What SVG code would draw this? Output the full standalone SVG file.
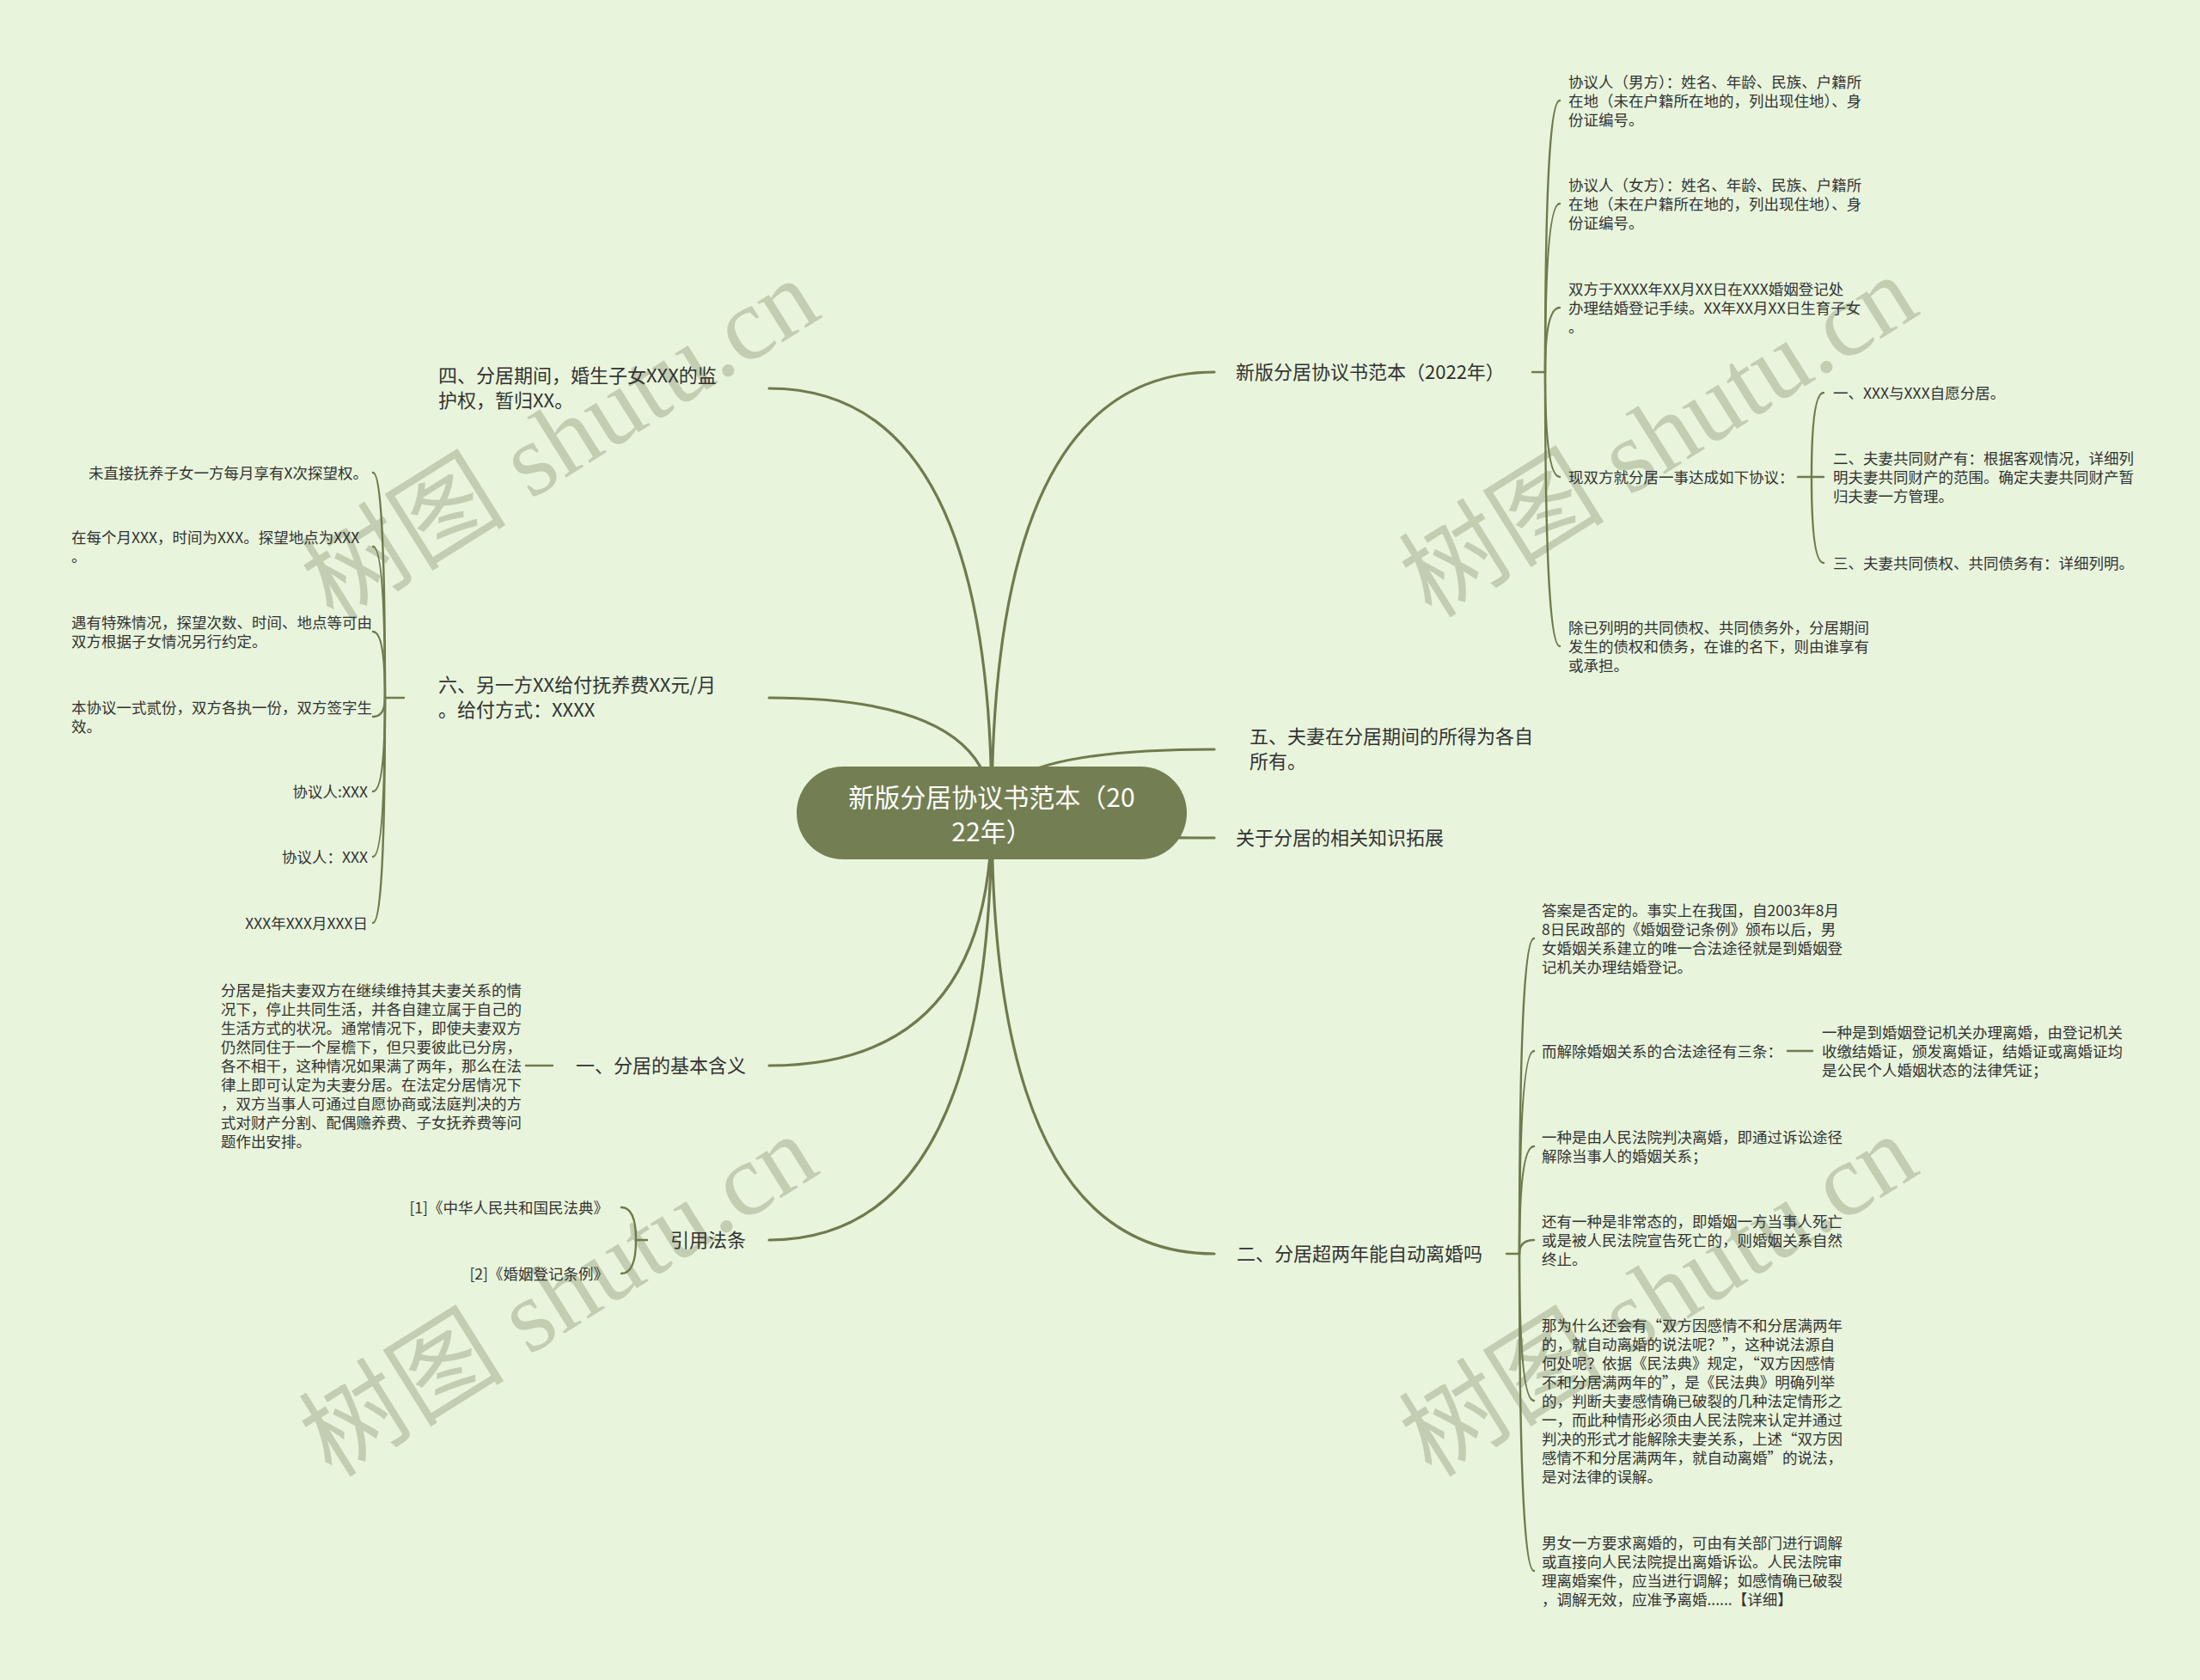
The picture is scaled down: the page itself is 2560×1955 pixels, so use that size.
<svg xmlns="http://www.w3.org/2000/svg" width="2560" height="1955" viewBox="0 0 2560 1955">
<defs>
<style>
.bg{fill:#e8f5dc}
.wm{font-family:"Liberation Serif","Noto Sans CJK SC",serif;font-size:120px;fill:#c2cdb2}
.c1{fill:none;stroke:#6f7b4e;stroke-width:3.2;stroke-linecap:round}
.c2{fill:none;stroke:#6f7b4e;stroke-width:2.4;stroke-linecap:round}
.t{font-family:"Noto Sans CJK SC","Noto Sans",sans-serif;fill:#333333}
.f17{font-size:17.5px}
.f22{font-size:22px}
.root{fill:#737f52}
.rt{font-family:"Noto Sans CJK SC","Noto Sans",sans-serif;font-size:30px;fill:#ffffff}
</style>
</defs>
<rect class="bg" x="0" y="0" width="2560" height="1955"/>

<g id="watermark">
<text class="wm" transform="translate(652,512) rotate(-32)" text-anchor="middle" dominant-baseline="central">树图 shutu.cn</text>
<text class="wm" transform="translate(1930,508) rotate(-32)" text-anchor="middle" dominant-baseline="central">树图 shutu.cn</text>
<text class="wm" transform="translate(650,1508) rotate(-32)" text-anchor="middle" dominant-baseline="central">树图 shutu.cn</text>
<text class="wm" transform="translate(1930,1508) rotate(-32)" text-anchor="middle" dominant-baseline="central">树图 shutu.cn</text>
</g>

<g id="connectors">
<path class="c1" d="M1154 946 Q1154 433 1413 433"/>
<path class="c1" d="M1154 946 Q1154 872 1413 872"/>
<path class="c1" d="M1154 946 Q1154 975 1413 975"/>
<path class="c1" d="M1154 946 Q1154 1459 1413 1459"/>
<path class="c1" d="M1154 946 Q1154 452 895 452"/>
<path class="c1" d="M1154 946 Q1154 812 895 812"/>
<path class="c1" d="M1154 946 Q1154 1240 895 1240"/>
<path class="c1" d="M1154 946 Q1154 1443 895 1443"/>
<path class="c2" d="M1783 433 L1798 433"/>
<path class="c2" d="M1798 433 Q1798 117 1815 117"/>
<path class="c2" d="M1798 433 Q1798 237 1815 237"/>
<path class="c2" d="M1798 433 Q1798 358 1815 358"/>
<path class="c2" d="M1798 433 Q1798 555 1815 555"/>
<path class="c2" d="M1798 433 Q1798 752 1815 752"/>
<path class="c2" d="M2092 555 L2122 555"/>
<path class="c2" d="M2108 555 Q2108 457 2122 457"/>
<path class="c2" d="M2108 555 Q2108 655 2122 655"/>
<path class="c2" d="M1753 1459 L1768 1459"/>
<path class="c2" d="M1768 1459 Q1768 1092 1785 1092"/>
<path class="c2" d="M1768 1459 Q1768 1223 1785 1223"/>
<path class="c2" d="M1768 1459 Q1768 1334 1785 1334"/>
<path class="c2" d="M1768 1459 Q1768 1443 1785 1443"/>
<path class="c2" d="M1768 1459 Q1768 1630 1785 1630"/>
<path class="c2" d="M1768 1459 Q1768 1828 1785 1828"/>
<path class="c2" d="M2080 1223 L2109 1223"/>
<path class="c2" d="M470 812 L448 812"/>
<path class="c2" d="M448 812 Q448 550 434 550"/>
<path class="c2" d="M448 812 Q448 636 434 636"/>
<path class="c2" d="M448 812 Q448 735 434 735"/>
<path class="c2" d="M448 812 Q448 834 434 834"/>
<path class="c2" d="M448 812 Q448 921 434 921"/>
<path class="c2" d="M448 812 Q448 997 434 997"/>
<path class="c2" d="M448 812 Q448 1074 434 1074"/>
<path class="c2" d="M643 1240 L612 1240"/>
<path class="c2" d="M753 1443 L740 1443"/>
<path class="c2" d="M740 1443 Q740 1405 723 1405"/>
<path class="c2" d="M740 1443 Q740 1482 723 1482"/>
</g>

<g id="root">
<rect class="root" x="927" y="892" width="454" height="108" rx="54" ry="54"/>
<text class="rt" text-anchor="middle"><tspan x="1154" y="939">新版分居协议书范本（20</tspan><tspan x="1154" y="979">22年）</tspan></text>
</g>

<g id="r1"><text class="t f22" x="1438" y="441">新版分居协议书范本（2022年）</text></g>
<g id="r1c1"><text class="t f17"><tspan x="1825" y="101.5">协议人（男方）：姓名、年龄、民族、户籍所</tspan><tspan x="1825" y="123.5">在地（未在户籍所在地的，列出现住地）、身</tspan><tspan x="1825" y="145.5">份证编号。</tspan></text></g>
<g id="r1c2"><text class="t f17"><tspan x="1825" y="221.5">协议人（女方）：姓名、年龄、民族、户籍所</tspan><tspan x="1825" y="243.5">在地（未在户籍所在地的，列出现住地）、身</tspan><tspan x="1825" y="265.5">份证编号。</tspan></text></g>
<g id="r1c3"><text class="t f17"><tspan x="1825" y="342.5">双方于XXXX年XX月XX日在XXX婚姻登记处</tspan><tspan x="1825" y="364.5">办理结婚登记手续。XX年XX月XX日生育子女</tspan><tspan x="1825" y="386.5">。</tspan></text></g>
<g id="r1c4"><text class="t f17" x="1825" y="561.5">现双方就分居一事达成如下协议：</text></g>
<g id="r1c4a"><text class="t f17" x="2133" y="463.5">一、XXX与XXX自愿分居。</text></g>
<g id="r1c4b"><text class="t f17"><tspan x="2133" y="539.5">二、夫妻共同财产有：根据客观情况，详细列</tspan><tspan x="2133" y="561.5">明夫妻共同财产的范围。确定夫妻共同财产暂</tspan><tspan x="2133" y="583.5">归夫妻一方管理。</tspan></text></g>
<g id="r1c4c"><text class="t f17" x="2133" y="661.5">三、夫妻共同债权、共同债务有：详细列明。</text></g>
<g id="r1c5"><text class="t f17"><tspan x="1825" y="736.5">除已列明的共同债权、共同债务外，分居期间</tspan><tspan x="1825" y="758.5">发生的债权和债务，在谁的名下，则由谁享有</tspan><tspan x="1825" y="780.5">或承担。</tspan></text></g>

<g id="r2"><text class="t f22"><tspan x="1454" y="865">五、夫妻在分居期间的所得为各自</tspan><tspan x="1454" y="894">所有。</tspan></text></g>
<g id="r3"><text class="t f22" x="1438" y="983">关于分居的相关知识拓展</text></g>

<g id="r4"><text class="t f22" x="1439" y="1467">二、分居超两年能自动离婚吗</text></g>
<g id="r4c1"><text class="t f17"><tspan x="1794" y="1065.5">答案是否定的。事实上在我国，自2003年8月</tspan><tspan x="1794" y="1087.5">8日民政部的《婚姻登记条例》颁布以后，男</tspan><tspan x="1794" y="1109.5">女婚姻关系建立的唯一合法途径就是到婚姻登</tspan><tspan x="1794" y="1131.5">记机关办理结婚登记。</tspan></text></g>
<g id="r4c2"><text class="t f17" x="1794" y="1229.5">而解除婚姻关系的合法途径有三条：</text></g>
<g id="r4c2a"><text class="t f17"><tspan x="2120" y="1207.5">一种是到婚姻登记机关办理离婚，由登记机关</tspan><tspan x="2120" y="1229.5">收缴结婚证，颁发离婚证，结婚证或离婚证均</tspan><tspan x="2120" y="1251.5">是公民个人婚姻状态的法律凭证；</tspan></text></g>
<g id="r4c3"><text class="t f17"><tspan x="1794" y="1329.5">一种是由人民法院判决离婚，即通过诉讼途径</tspan><tspan x="1794" y="1351.5">解除当事人的婚姻关系；</tspan></text></g>
<g id="r4c4"><text class="t f17"><tspan x="1794" y="1427.5">还有一种是非常态的，即婚姻一方当事人死亡</tspan><tspan x="1794" y="1449.5">或是被人民法院宣告死亡的，则婚姻关系自然</tspan><tspan x="1794" y="1471.5">终止。</tspan></text></g>
<g id="r4c5"><text class="t f17"><tspan x="1794" y="1548.5">那为什么还会有“双方因感情不和分居满两年</tspan><tspan x="1794" y="1570.5">的，就自动离婚的说法呢？”，这种说法源自</tspan><tspan x="1794" y="1592.5">何处呢？依据《民法典》规定，“双方因感情</tspan><tspan x="1794" y="1614.5">不和分居满两年的”，是《民法典》明确列举</tspan><tspan x="1794" y="1636.5">的，判断夫妻感情确已破裂的几种法定情形之</tspan><tspan x="1794" y="1658.5">一，而此种情形必须由人民法院来认定并通过</tspan><tspan x="1794" y="1680.5">判决的形式才能解除夫妻关系，上述“双方因</tspan><tspan x="1794" y="1702.5">感情不和分居满两年，就自动离婚”的说法，</tspan><tspan x="1794" y="1724.5">是对法律的误解。</tspan></text></g>
<g id="r4c6"><text class="t f17"><tspan x="1794" y="1801.5">男女一方要求离婚的，可由有关部门进行调解</tspan><tspan x="1794" y="1823.5">或直接向人民法院提出离婚诉讼。人民法院审</tspan><tspan x="1794" y="1845.5">理离婚案件，应当进行调解；如感情确已破裂</tspan><tspan x="1794" y="1867.5">，调解无效，应准予离婚......【详细】</tspan></text></g>

<g id="l1"><text class="t f22"><tspan x="510" y="445">四、分居期间，婚生子女XXX的监</tspan><tspan x="510" y="474">护权，暂归XX。</tspan></text></g>
<g id="l2"><text class="t f22"><tspan x="510" y="805">六、另一方XX给付抚养费XX元/月</tspan><tspan x="510" y="834">。给付方式：XXXX</tspan></text></g>
<g id="l2c1"><text class="t f17" x="428" y="556.5" text-anchor="end">未直接抚养子女一方每月享有X次探望权。</text></g>
<g id="l2c2"><text class="t f17"><tspan x="83" y="631.5">在每个月XXX，时间为XXX。探望地点为XXX</tspan><tspan x="83" y="653.5">。</tspan></text></g>
<g id="l2c3"><text class="t f17"><tspan x="83" y="730.5">遇有特殊情况，探望次数、时间、地点等可由</tspan><tspan x="83" y="752.5">双方根据子女情况另行约定。</tspan></text></g>
<g id="l2c4"><text class="t f17"><tspan x="83" y="829.5">本协议一式贰份，双方各执一份，双方签字生</tspan><tspan x="83" y="851.5">效。</tspan></text></g>
<g id="l2c5"><text class="t f17" x="428" y="927.5" text-anchor="end">协议人:XXX</text></g>
<g id="l2c6"><text class="t f17" x="428" y="1003.5" text-anchor="end">协议人：XXX</text></g>
<g id="l2c7"><text class="t f17" x="428" y="1080.5" text-anchor="end">XXX年XXX月XXX日</text></g>

<g id="l3"><text class="t f22" x="670" y="1248">一、分居的基本含义</text></g>
<g id="l3c1"><text class="t f17"><tspan x="257" y="1158.5">分居是指夫妻双方在继续维持其夫妻关系的情</tspan><tspan x="257" y="1180.5">况下，停止共同生活，并各自建立属于自己的</tspan><tspan x="257" y="1202.5">生活方式的状况。通常情况下，即使夫妻双方</tspan><tspan x="257" y="1224.5">仍然同住于一个屋檐下，但只要彼此已分房，</tspan><tspan x="257" y="1246.5">各不相干，这种情况如果满了两年，那么在法</tspan><tspan x="257" y="1268.5">律上即可认定为夫妻分居。在法定分居情况下</tspan><tspan x="257" y="1290.5">，双方当事人可通过自愿协商或法庭判决的方</tspan><tspan x="257" y="1312.5">式对财产分割、配偶赡养费、子女抚养费等问</tspan><tspan x="257" y="1334.5">题作出安排。</tspan></text></g>

<g id="l4"><text class="t f22" x="868" y="1451" text-anchor="end">引用法条</text></g>
<g id="l4c1"><text class="t f17" x="708" y="1411.5" text-anchor="end">[1]《中华人民共和国民法典》</text></g>
<g id="l4c2"><text class="t f17" x="708" y="1488.5" text-anchor="end">[2]《婚姻登记条例》</text></g>
</svg>
